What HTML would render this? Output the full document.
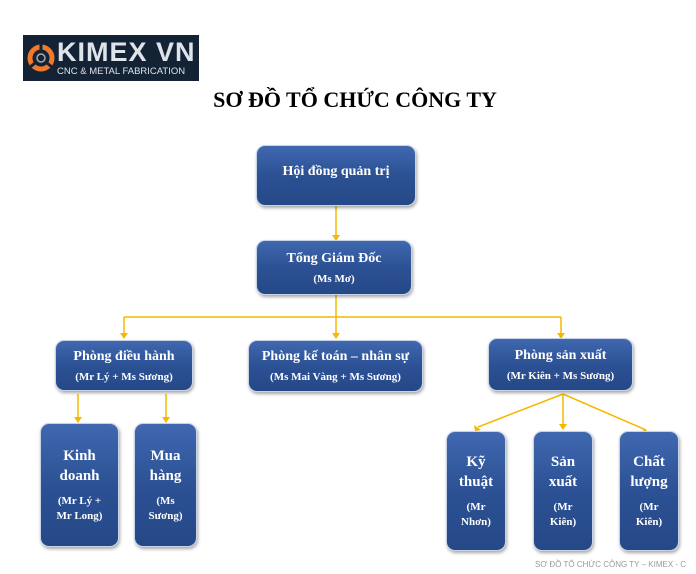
<!DOCTYPE html>
<html><head><meta charset="utf-8"><style>
body{margin:0;width:696px;height:574px;background:#fff;position:relative;overflow:hidden;font-family:"Liberation Serif",serif}
.b{position:absolute;box-sizing:border-box;border-radius:9px;background:linear-gradient(#4068b0,#2c5194 50%,#254887);border:1.5px solid #c9d3e6;box-shadow:1px 2px 3px rgba(0,0,0,.35);color:#fff;font-weight:bold;text-align:center;display:flex;flex-direction:column;justify-content:center;align-items:center}
.t{font-size:14px}.s{font-size:11px;margin-top:6px}
.v .t{font-size:15px;line-height:20px}.v .s{font-size:11px;line-height:15px;margin-top:8px}
</style></head><body>
<div style="position:absolute;left:23px;top:35px;width:176px;height:46px;background:#142236;color:#fff;font-family:'Liberation Sans',sans-serif">
<svg style="position:absolute;left:3px;top:5px" width="30" height="34" viewBox="0 0 30 34"><circle cx="15" cy="18" r="11" fill="none" stroke="#f07a2a" stroke-width="5"/><circle cx="15" cy="18" r="4" fill="none" stroke="#aaa" stroke-width="1.5"/><path d="M15 2 L15 10 M3 28 L9 23 M27 28 L21 23" stroke="#142236" stroke-width="3"/></svg>
<div style="position:absolute;left:34px;top:2px;font-size:27px;font-weight:bold;letter-spacing:1px;color:#dfe3ea">KIMEX VN</div>
<div style="position:absolute;left:34px;top:31px;font-size:9.5px;color:#dfe3ea;white-space:nowrap">CNC &amp; METAL FABRICATION</div>
</div>
<div style="position:absolute;left:0;width:696px;top:87px;text-align:center;font-size:22px;font-weight:bold;padding-left:14px;box-sizing:border-box">SƠ ĐỒ TỔ CHỨC CÔNG TY</div>
<svg style="position:absolute;left:0;top:0" width="696" height="574">
<g stroke="#f5b800" stroke-width="1.5" fill="none">
<line x1="336" y1="206" x2="336" y2="236"/><line x1="336" y1="295" x2="336" y2="334"/>
<line x1="124" y1="317" x2="561" y2="317"/><line x1="124" y1="317" x2="124" y2="334"/><line x1="561" y1="317" x2="561" y2="334"/>
<line x1="78" y1="394" x2="78" y2="418"/><line x1="166" y1="394" x2="166" y2="418"/>
<line x1="563" y1="394" x2="478" y2="427"/><line x1="563" y1="394" x2="563" y2="425"/><line x1="563" y1="394" x2="646" y2="430"/>
</g>
<g fill="#f5b800">
<path d="M332 235 L340 235 L336 241Z"/><path d="M332 333 L340 333 L336 339Z"/><path d="M120 333 L128 333 L124 339Z"/><path d="M557 333 L565 333 L561 339Z"/>
<path d="M74 417 L82 417 L78 423Z"/><path d="M162 417 L170 417 L166 423Z"/><path d="M559 424 L567 424 L563 430Z"/>
<path d="M474 425 L481 430 L475 431Z"/><path d="M643 428 L650 433 L644 434Z"/>
</g></svg>
<div class="b" style="left:256px;top:145px;width:160px;height:61px"><div class="t" style="margin-bottom:8px">Hội đồng quản trị</div></div>
<div class="b" style="left:256px;top:240px;width:156px;height:55px"><div class="t">Tổng Giám Đốc</div><div class="s">(Ms Mơ)</div></div>
<div class="b" style="left:55px;top:340px;width:138px;height:51px"><div class="t">Phòng điều hành</div><div class="s">(Mr Lý + Ms Sương)</div></div>
<div class="b" style="left:248px;top:340px;width:175px;height:52px"><div class="t">Phòng kế toán – nhân sự</div><div class="s">(Ms Mai Vàng + Ms Sương)</div></div>
<div class="b" style="left:488px;top:338px;width:145px;height:53px"><div class="t">Phòng sản xuất</div><div class="s">(Mr Kiên + Ms Sương)</div></div>
<div class="b v" style="left:40px;top:423px;width:79px;height:124px"><div class="t">Kinh<br>doanh</div><div class="s">(Mr Lý +<br>Mr Long)</div></div>
<div class="b v" style="left:134px;top:423px;width:63px;height:124px"><div class="t">Mua<br>hàng</div><div class="s">(Ms<br>Sương)</div></div>
<div class="b v" style="left:446px;top:431px;width:60px;height:120px"><div class="t">Kỹ<br>thuật</div><div class="s">(Mr<br>Nhơn)</div></div>
<div class="b v" style="left:533px;top:431px;width:60px;height:120px"><div class="t">Sản<br>xuất</div><div class="s">(Mr<br>Kiên)</div></div>
<div class="b v" style="left:619px;top:431px;width:60px;height:120px"><div class="t">Chất<br>lượng</div><div class="s">(Mr<br>Kiên)</div></div>
<div style="position:absolute;left:535px;top:560px;font-family:'Liberation Sans',sans-serif;font-size:8px;color:#999;white-space:nowrap">SƠ ĐỒ TỔ CHỨC CÔNG TY – KIMEX - C</div>
</body></html>
